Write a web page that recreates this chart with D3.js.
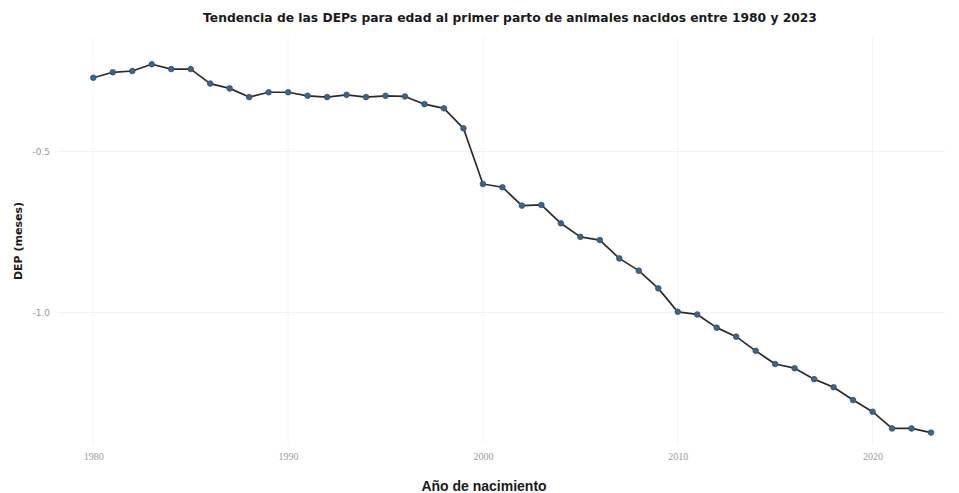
<!DOCTYPE html>
<html><head><meta charset="utf-8">
<script src="https://cdn.jsdelivr.net/npm/d3@7"></script>
<style>html,body{margin:0;padding:0;background:#fff;}svg{display:block;}</style>
</head><body>
<svg id="chart" width="959" height="493"></svg>
<script>
const years = d3.range(1980, 2024);
const dep = [-0.271,-0.254,-0.250,-0.229,-0.244,-0.244,-0.289,-0.304,-0.331,-0.316,
             -0.316,-0.327,-0.331,-0.324,-0.331,-0.327,-0.329,-0.353,-0.366,-0.428,
             -0.601,-0.611,-0.668,-0.666,-0.723,-0.765,-0.775,-0.832,-0.870,-0.925,
             -0.998,-1.006,-1.047,-1.075,-1.119,-1.160,-1.173,-1.207,-1.232,-1.272,
             -1.308,-1.360,-1.360,-1.373];
const xTicks = [1980, 1990, 2000, 2010, 2020];
const yTicks = [-0.5, -1.0];
const title = "Tendencia de las DEPs para edad al primer parto de animales nacidos entre 1980 y 2023";
const xTitle = "Año de nacimiento";
const yTitle = "DEP (meses)";

const data = years.map((y,i)=>({year:y, v:dep[i]}));
const svg = d3.select("#chart");
const plot = {left:58, right:945, top:37, bottom:445};

const x = d3.scaleLinear().domain([1980, 2023]).range([93.3, 931]);
const y = d3.scaleLinear().domain([-0.5, -1.0]).range([151.5, 312.5]);

// grid
const g = svg.append("g");
g.selectAll("line.vg").data(xTicks).join("line")
  .attr("x1", d=>x(d)).attr("x2", d=>x(d))
  .attr("y1", plot.top).attr("y2", plot.bottom)
  .attr("stroke", "#f4f4f4").attr("stroke-width", 1);
g.selectAll("line.hg").data(yTicks).join("line")
  .attr("x1", plot.left).attr("x2", plot.right)
  .attr("y1", d=>y(d)).attr("y2", d=>y(d))
  .attr("stroke", "#f2f2f2").attr("stroke-width", 1);

// axes (labels only)
const xAxis = d3.axisBottom(x).tickValues(xTicks).tickFormat(d3.format("d")).tickSize(0).tickPadding(0);
const xa = svg.append("g").attr("transform", `translate(0,${plot.bottom+8})`).call(xAxis);
xa.select(".domain").remove();
xa.selectAll("text").attr("font-family","Liberation Serif, serif").attr("font-size", 10).attr("fill","#9a9a9a");

const yAxis = d3.axisLeft(y).tickValues(yTicks).tickFormat(d3.format(".1f")).tickSize(0).tickPadding(0);
const ya = svg.append("g").attr("transform", `translate(${plot.left-8},0)`).call(yAxis);
ya.select(".domain").remove();
ya.selectAll("text").attr("font-family","DejaVu Sans, sans-serif").attr("font-size", 9).attr("fill","#9a9a9a")
  .text(d=> d3.format(".1f")(d).replace("−","-"));

// line
const line = d3.line().x(d=>x(d.year)).y(d=>y(d.v));
svg.append("path").datum(data).attr("d", line)
  .attr("fill","none").attr("stroke","#2b2b2b").attr("stroke-width",1.7).attr("stroke-linejoin","round");

svg.selectAll("circle.pt").data(data).join("circle")
  .attr("cx", d=>x(d.year)).attr("cy", d=>y(d.v)).attr("r", 2.8)
  .attr("fill","#3f6489").attr("stroke","#34506e").attr("stroke-width",0.8);

// titles
svg.append("text").attr("x", 510).attr("y", 22).attr("text-anchor","middle")
  .attr("font-family","DejaVu Sans, sans-serif").attr("font-weight","bold").attr("font-size", 12.3)
  .attr("fill","#1a1a1a").text(title);
svg.append("text").attr("x", 484).attr("y", 491).attr("text-anchor","middle")
  .attr("font-family","Liberation Sans, sans-serif").attr("font-weight","bold").attr("font-size", 14)
  .attr("fill","#1a1a1a").text(xTitle);
svg.append("text").attr("transform","translate(22,241) rotate(-90)").attr("text-anchor","middle")
  .attr("font-family","DejaVu Sans, sans-serif").attr("font-weight","bold").attr("font-size", 11)
  .attr("fill","#1a1a1a").text(yTitle);
</script>
</body></html>
